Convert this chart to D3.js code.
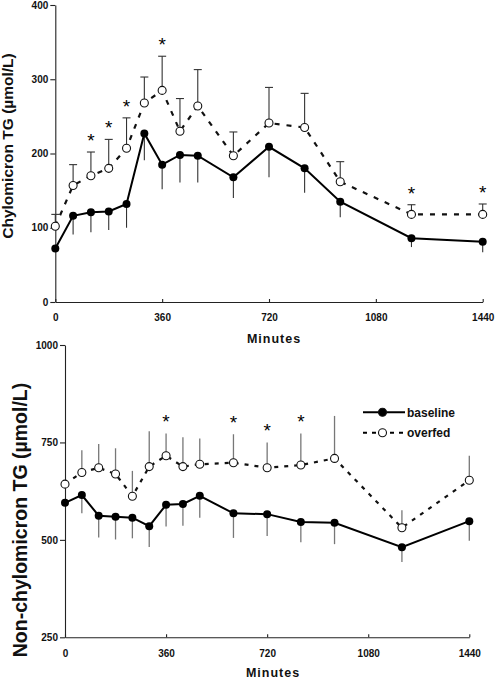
<!DOCTYPE html>
<html>
<head>
<meta charset="utf-8">
<script src="https://cdn.jsdelivr.net/npm/d3@7"></script>
<style>
  html, body { margin: 0; padding: 0; background: #fff; }
  svg { display: block; font-family: "Liberation Sans", Arial, sans-serif; }
</style>
</head>
<body>
<script>
// ---------- data ----------
const times = [0, 60, 120, 180, 240, 300, 360, 420, 480, 600, 720, 840, 960, 1200, 1440];
const xTicks = [0, 360, 720, 1080, 1440];

// Chylomicron TG (µmol/L)
const chyloBaseline    = [72, 116, 121, 122, 132, 227, 185, 198, 197, 168, 209, 180, 135, 86, 81];
const chyloBaselineErr = [null, 25, 27, 25, 32, 36, 33, 37, 36, 28, 41, 33, 21, 12, 14];
const chyloOverfed     = [102, 157, 170, 180, 207, 268, 285, 230, 264, 197, 241, 235, 162, 118, 118];
const chyloOverfedErr  = [16, 28, 32, 39, 41, 35, 46, 44, 49, 32, 48, 46, 27, 13, 14];
const chyloStars       = [120, 180, 240, 360, 1200, 1440];
const chyloYTicks      = [0, 100, 200, 300, 400];

// Non-chylomicron TG (µmol/L)
const nonBaseline    = [595, 615, 562, 559, 557, 535, 590, 592, 613, 568, 566, 546, 544, 481, 548];
const nonBaselineErr = [null, 47, 56, 58, 53, 53, 56, 56, 56, 63, 56, 52, 55, 38, 50];
const nonOverfed     = [643, 673, 685, 669, 612, 688, 716, 688, 694, 698, 685, 692, 709, 531, 653];
const nonOverfedErr  = [null, 57, 61, 66, 65, 91, 57, 75, 66, 73, 65, 81, 109, 45, 63];
const nonStars       = [360, 600, 720, 840];
const nonYTicks      = [250, 500, 750, 1000];

const seriesNames = ["baseline", "overfed"];

// ---------- drawing ----------
const W = 496, H = 678;
const svg = d3.select("body").append("svg").attr("width", W).attr("height", H);

function panel(cfg) {
  const g = svg.append("g");
  const x = d3.scaleLinear().domain([0, 1440]).range([cfg.x0, cfg.x1]);
  const y = d3.scaleLinear().domain(cfg.yDomain).range([cfg.yBottom, cfg.yTop]);

  // axes
  const xa = g.append("g").attr("transform", `translate(0,${cfg.yBottom})`)
    .call(d3.axisBottom(x).tickValues(xTicks).tickFormat(d3.format("d"))
      .tickSizeInner(-3).tickSizeOuter(0).tickPadding(cfg.xPad));
  const ya = g.append("g").attr("transform", `translate(${cfg.x0},0)`)
    .call(d3.axisLeft(y).tickValues(cfg.yTicks).tickFormat(d3.format("d"))
      .tickSizeInner(5).tickSizeOuter(0).tickPadding(2));
  [xa, ya].forEach(a => {
    a.selectAll("path, line").attr("stroke", "#222").attr("stroke-width", 1.1);
    a.selectAll("text").attr("font-size", 10).attr("font-weight", "bold").attr("fill", "#111")
      .attr("font-family", "'Liberation Sans', Arial, sans-serif");
  });

  // axis titles
  g.append("text").attr("x", cfg.minX).attr("y", cfg.minY)
    .attr("text-anchor", "middle").attr("font-size", 12.5).attr("font-weight", "bold")
    .attr("letter-spacing", 1).attr("fill", "#111").text("Minutes");
  g.append("text")
    .attr("transform", `translate(${cfg.titleX},${cfg.titleY}) rotate(-90)`)
    .attr("text-anchor", "middle").attr("font-size", cfg.titleSize).attr("font-weight", "bold")
    .attr("fill", "#111").text(cfg.title);

  const pts = (vals) => times.map((t, i) => ({ t, v: vals[i], i }));
  const base = pts(cfg.base), over = pts(cfg.over);

  // error bars
  const eb = g.append("g").attr("stroke", cfg.errColor).attr("stroke-width", cfg.errWidth);
  base.filter(d => cfg.baseErr[d.i] != null).forEach(d => {
    eb.append("line").attr("x1", x(d.t)).attr("x2", x(d.t))
      .attr("y1", y(d.v)).attr("y2", y(d.v - cfg.baseErr[d.i]));
  });
  over.filter(d => cfg.overErr[d.i] != null).forEach(d => {
    const top = y(d.v + cfg.overErr[d.i]);
    eb.append("line").attr("x1", x(d.t)).attr("x2", x(d.t))
      .attr("y1", y(d.v)).attr("y2", top);
    if (cfg.caps) {
      eb.append("line").attr("x1", x(d.t) - 4).attr("x2", x(d.t) + 4)
        .attr("y1", top).attr("y2", top);
    }
  });

  // lines
  const line = d3.line().x(d => x(d.t)).y(d => y(d.v));
  g.append("path").datum(over).attr("d", line).attr("fill", "none")
    .attr("stroke", "#111").attr("stroke-width", 2.2).attr("stroke-dasharray", cfg.dash);
  g.append("path").datum(base).attr("d", line).attr("fill", "none")
    .attr("stroke", "#000").attr("stroke-width", 2);

  // markers
  g.selectAll(".ov").data(over).join("circle")
    .attr("cx", d => x(d.t)).attr("cy", d => y(d.v)).attr("r", cfg.r)
    .attr("fill", "#fff").attr("stroke", "#111").attr("stroke-width", 1.1);
  g.selectAll(".bs").data(base).join("circle")
    .attr("cx", d => x(d.t)).attr("cy", d => y(d.v)).attr("r", cfg.r)
    .attr("fill", "#000");

  // significance stars
  const fs = 19;
  cfg.stars.forEach(t => {
    const i = times.indexOf(t);
    const top = y(cfg.over[i] + (cfg.overErr[i] || 0));
    g.append("text").attr("x", x(t)).attr("y", top - 16 + 0.57 * fs)
      .attr("text-anchor", "middle").attr("font-size", fs).attr("fill", "#000")
      .style("text-rendering", "geometricPrecision").text("*");
  });
  return { g, x, y };
}

panel({
  x0: 55.3, x1: 482.7, yTop: 5, yBottom: 302, yDomain: [0, 400], yTicks: chyloYTicks,
  xPad: 12, minX: 274, minY: 342.5,
  title: "Chylomicron TG (µmol/L)", titleX: 13, titleY: 146, titleSize: 15.5,
  base: chyloBaseline, baseErr: chyloBaselineErr, over: chyloOverfed, overErr: chyloOverfedErr,
  stars: chyloStars, caps: true, errColor: "#333", errWidth: 1.1, dash: "5,7", r: 4
});

panel({
  x0: 65, x1: 469.3, yTop: 345, yBottom: 637.3, yDomain: [250, 1000], yTicks: nonYTicks,
  xPad: 13, minX: 273, minY: 676.5,
  title: "Non-chylomicron TG (µmol/L)", titleX: 27, titleY: 520, titleSize: 19.5,
  base: nonBaseline, baseErr: nonBaselineErr, over: nonOverfed, overErr: nonOverfedErr,
  stars: nonStars, caps: false, errColor: "#777", errWidth: 1.3, dash: "4,6", r: 4
});

// legend
const lg = svg.append("g");
const legY = [412.3, 432.7];
seriesNames.forEach((name, i) => {
  const yy = legY[i];
  lg.append("line").attr("x1", 363).attr("x2", 405).attr("y1", yy).attr("y2", yy)
    .attr("stroke", "#000").attr("stroke-width", 2)
    .attr("stroke-dasharray", i === 0 ? null : "4,5");
  lg.append("circle").attr("cx", 382.5).attr("cy", yy).attr("r", 4)
    .attr("fill", i === 0 ? "#000" : "#fff").attr("stroke", "#111").attr("stroke-width", 1.1);
  lg.append("text").attr("x", 407).attr("y", yy + 4.3).attr("font-size", 12)
    .attr("font-weight", "bold").attr("fill", "#111").text(name);
});
</script>
</body>
</html>
